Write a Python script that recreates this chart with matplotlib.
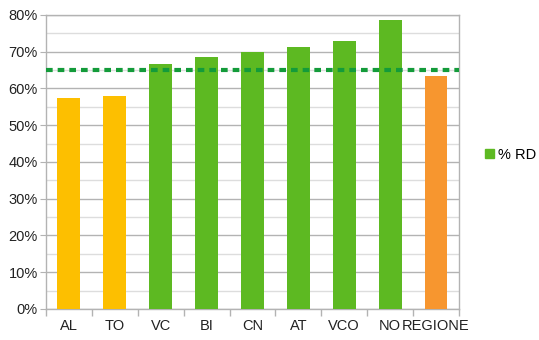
import numpy as np
import matplotlib.pyplot as plt
from matplotlib.ticker import MultipleLocator, FuncFormatter
from matplotlib.patches import Patch

# data
provinces = ["AL", "TO", "VC", "BI", "CN", "AT", "VCO", "NO", "REGIONE"]
rd_values = [57.4, 58.0, 66.7, 68.6, 69.9, 71.3, 72.8, 78.6, 63.3]
bar_colors = ["#FDBF00", "#FDBF00", "#5DB922", "#5DB922", "#5DB922",
              "#5DB922", "#5DB922", "#5DB922", "#F7962F"]
target = 65.0

plt.rcParams["font.family"] = ["Liberation Sans", "DejaVu Sans"]

fig = plt.figure(figsize=(5.39, 3.40), dpi=100)
ax = fig.add_axes([0.0853, 0.0912, 0.7662, 0.8647])

x = np.arange(len(provinces))
ax.bar(x, rd_values, width=0.5, color=bar_colors, zorder=3)
ax.axhline(target, color="#139B3A", lw=3.0, ls=(0, (1.6, 1.2)), zorder=4)

ax.set_xlim(-0.5, len(provinces) - 0.5)
ax.set_ylim(0, 80)
ax.yaxis.set_major_locator(MultipleLocator(10))
ax.yaxis.set_minor_locator(MultipleLocator(5))
ax.yaxis.set_major_formatter(FuncFormatter(lambda v, p: f"{v:.0f}%"))
ax.grid(which="major", axis="y", color="#B3B3B3", lw=1.0, zorder=0)
ax.grid(which="minor", axis="y", color="#DDDDDD", lw=1.0, zorder=0)

# category labels centered, tick marks on boundaries
ax.set_xticks(x)
ax.set_xticklabels(provinces, fontsize=10.5, color="#222222")
ax.tick_params(axis="x", which="major", length=0, pad=7)
ax.set_xticks(np.arange(-0.5, len(provinces)), minor=True)
ax.tick_params(axis="x", which="minor", length=5, color="#B3B3B3", width=1)
ax.tick_params(axis="y", which="major", length=4, color="#B3B3B3",
               labelsize=10.5, labelcolor="#222222", pad=2)
ax.tick_params(axis="y", which="minor", length=0)

for s in ax.spines.values():
    s.set_color("#B3B3B3")
    s.set_linewidth(1.0)

handle = Patch(color="#5DB922")
fig.legend([handle], ["% RD"], loc="center left", bbox_to_anchor=(0.875, 0.545),
           frameon=False, fontsize=10.5, handlelength=0.6, handleheight=0.6,
           handletextpad=0.3)

fig.savefig("out.png", dpi=100)
